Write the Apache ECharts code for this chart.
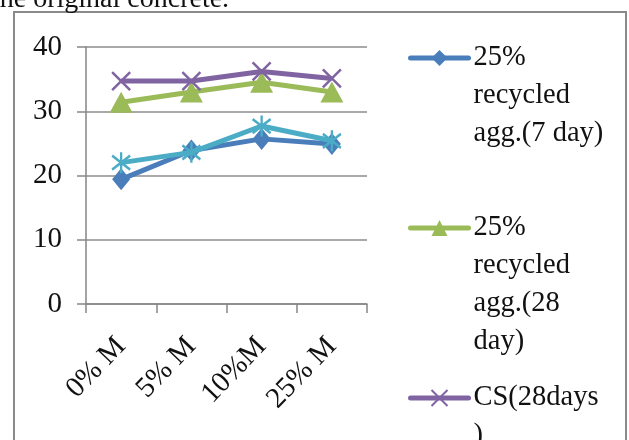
<!DOCTYPE html>
<html><head><meta charset="utf-8">
<script src="https://cdn.jsdelivr.net/npm/echarts@6/dist/echarts.min.js"></script>
<style>html,body{margin:0;padding:0;background:#fff;overflow:hidden}#c{width:629px;height:440px}</style>
</head><body><div id="c"></div>
<script>
const categories = ['0% M', '5% M', '10%M', '25% M'];
const yTicks = [0, 10, 20, 30, 40];
const seriesNames = ['25% recycled agg.(7 day)', '25% recycled agg.(28 day)', 'CS(28days)', 'CS(7days)'];
const legendLabels = ['25%\nrecycled\nagg.(7 day)', '25%\nrecycled\nagg.(28\nday)', 'CS(28days\n)', 'CS(7days\n)'];
const recycled7 = [19.4, 23.9, 25.7, 24.9];
const recycled28 = [31.4, 33.0, 34.5, 33.0];
const cs28 = [34.7, 34.7, 36.2, 35.1];
const cs7 = [22.0, 23.6, 27.7, 25.4];

const colors = ['#4A7EBB', '#9BBB59', '#8064A2', '#4BACC6'];
const font = 'Liberation Serif';
const L = 38;
const crossPath = 'path://M0,0L10,10M10,0L0,10';
const starPath = 'path://M0,1L10,9M10,1L0,9M5,-1L5,11';

function nLines(i) { return legendLabels[i].split('\n').length; }
function legendCfg(i, iconY) {
  const n = nLines(i);
  return {
    data: [seriesNames[i]], orient: 'vertical', left: 408, top: iconY - (2 * n - 1) * L / 2,
    padding: 0, itemWidth: 58, itemHeight: 20, itemGap: 0,
    lineStyle: { width: 5, cap: 'round' },
    formatter: () => '\n'.repeat(n - 1) + legendLabels[i],
    textStyle: { fontFamily: font, fontSize: 28.5, lineHeight: L, color: '#111' }
  };
}

const chart = echarts.init(document.getElementById('c'));
chart.setOption({
  animation: false,
  graphic: [
    { type: 'rect', shape: { x: 14, y: 12, width: 612, height: 440 }, style: { fill: 'none', stroke: '#8a8a8a', lineWidth: 2 } },
    { type: 'text', x: -8, y: -14, style: { text: 'the original concrete.', font: '28px "Liberation Serif"', fill: '#111' } }
  ],
  grid: { left: 86, right: 262, top: 47, bottom: 136 },
  legend: [
    legendCfg(0, 58),
    legendCfg(1, 228),
    legendCfg(2, 398),
    legendCfg(3, 568)
  ],
  xAxis: {
    type: 'category', data: categories, boundaryGap: true,
    axisLine: { lineStyle: { color: '#868686', width: 1.5 } },
    axisTick: { show: true, length: 9, lineStyle: { color: '#868686', width: 1.5 } },
    axisLabel: { rotate: 46, margin: 38, fontFamily: font, fontSize: 29, color: '#111' }
  },
  yAxis: {
    type: 'value', min: 0, max: 40, interval: 10,
    axisLine: { show: true, lineStyle: { color: '#868686', width: 1.5 } },
    axisTick: { show: true, length: 9, lineStyle: { color: '#868686', width: 1.5 } },
    splitLine: { lineStyle: { color: '#8c8c8c', width: 1.5 } },
    axisLabel: { margin: 24, fontFamily: font, fontSize: 29, color: '#111',
      formatter: v => yTicks.includes(v) ? String(v) : '' }
  },
  series: [
    { name: seriesNames[0], type: 'line', data: recycled7, symbol: 'diamond', symbolSize: [18, 22],
      lineStyle: { color: colors[0], width: 5 }, itemStyle: { color: colors[0] }, z: 2 },
    { name: seriesNames[1], type: 'line', data: recycled28, symbol: 'triangle', symbolSize: [23, 21],
      lineStyle: { color: colors[1], width: 5 }, itemStyle: { color: colors[1] }, z: 3 },
    { name: seriesNames[2], type: 'line', data: cs28, symbol: crossPath, symbolSize: 18,
      lineStyle: { color: colors[2], width: 5 }, itemStyle: { color: colors[2], borderColor: colors[2], borderWidth: 2.5 }, z: 4 },
    { name: seriesNames[3], type: 'line', data: cs7, symbol: starPath, symbolSize: [18, 21],
      lineStyle: { color: colors[3], width: 5 }, itemStyle: { color: colors[3], borderColor: colors[3], borderWidth: 2.5 }, z: 5 }
  ]
});
</script></body></html>
